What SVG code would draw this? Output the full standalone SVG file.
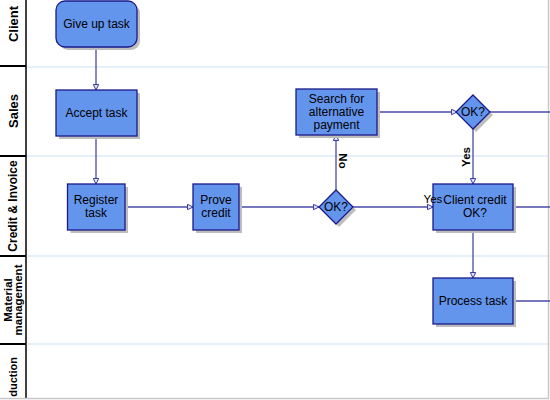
<svg xmlns="http://www.w3.org/2000/svg" width="550" height="400" viewBox="0 0 550 400">
<style>
.node{fill:#6495ED;stroke:#1a1a8a;stroke-width:1.3}
.shadow{fill:#bdbdbd}
.lbl{font-family:"Liberation Sans",Arial,sans-serif;font-size:12px;fill:#000;text-anchor:middle}
.lane{font-family:"Liberation Sans",Arial,sans-serif;font-size:13px;font-weight:bold;fill:#000;text-anchor:middle}
.edge{stroke:#4a4aa8;stroke-width:1.3;fill:none}
.elbl{font-family:"Liberation Sans",Arial,sans-serif;font-size:11.5px;fill:#000;text-anchor:middle}
</style>
<defs>
<marker id="arr" markerWidth="8" markerHeight="8" refX="6" refY="3.5" orient="auto" markerUnits="userSpaceOnUse">
<path d="M0.5,0.8 L6,3.5 L0.5,6.2 z" fill="#dde6fb" stroke="#3a3aa0" stroke-width="1"/>
</marker>
</defs>
<rect x="0" y="0" width="550" height="400" fill="#fff"/>
<g id="lanes">
<g stroke="#e6f0fb" stroke-width="2">
<line x1="27" y1="67" x2="548" y2="67"/>
<line x1="27" y1="156" x2="548" y2="156"/>
<line x1="27" y1="256" x2="548" y2="256"/>
<line x1="27" y1="344" x2="548" y2="344"/>
</g>
<g stroke="#000" stroke-width="2">
<line x1="0" y1="66" x2="26" y2="66"/>
<line x1="0" y1="156" x2="26" y2="156"/>
<line x1="0" y1="256" x2="26" y2="256"/>
<line x1="0" y1="344" x2="26" y2="344"/>
</g>
<line x1="26" y1="0" x2="26" y2="399" stroke="#000" stroke-width="1.5"/>
<polyline points="0,398.5 548.5,398.5 548.5,0" fill="none" stroke="#c8c8c8" stroke-width="1.5"/>
<text class="lane" transform="translate(17.5,24) rotate(-90)">Client</text>
<text class="lane" transform="translate(17.5,111) rotate(-90)">Sales</text>
<text class="lane" style="font-size:12px" transform="translate(17,206) rotate(-90)">Credit &amp; Invoice</text>
<text class="lane" style="font-size:11.5px" transform="translate(12,300) rotate(-90)">Material</text>
<text class="lane" style="font-size:11.5px" transform="translate(22,300) rotate(-90)">management</text>
<text class="lane" style="font-size:11px;text-anchor:end" transform="translate(17,357) rotate(-90)">duction</text>
</g>
<g id="connectors">
<line class="edge" x1="96" y1="47" x2="96" y2="90" marker-end="url(#arr)"/>
<line class="edge" x1="96" y1="136" x2="96" y2="184" marker-end="url(#arr)"/>
<line class="edge" x1="125" y1="207" x2="193" y2="207" marker-end="url(#arr)"/>
<line class="edge" x1="239" y1="207" x2="319" y2="207" marker-end="url(#arr)"/>
<line class="edge" x1="336" y1="190" x2="336" y2="135" marker-end="url(#arr)"/>
<line class="edge" x1="353" y1="207" x2="433" y2="207" marker-end="url(#arr)"/>
<line class="edge" x1="377" y1="112" x2="457" y2="112" marker-end="url(#arr)"/>
<line class="edge" x1="490" y1="112" x2="550" y2="112"/>
<line class="edge" x1="473" y1="129" x2="473" y2="184" marker-end="url(#arr)"/>
<line class="edge" x1="513" y1="207" x2="550" y2="207"/>
<line class="edge" x1="473" y1="230" x2="473" y2="278" marker-end="url(#arr)"/>
<line class="edge" x1="513" y1="301" x2="550" y2="301"/>
</g>
<g id="n_giveup">
<rect class="shadow" x="59" y="4" width="81" height="46" rx="9"/>
<rect class="node" x="56" y="1" width="81" height="46" rx="9"/>
<text class="lbl" x="96.5" y="28">Give up task</text>
</g>
<g id="n_accept">
<rect class="shadow" x="59" y="93" width="81" height="46"/>
<rect class="node" x="56" y="90" width="81" height="46"/>
<text class="lbl" x="96.5" y="117">Accept task</text>
</g>
<g id="n_register">
<rect class="shadow" x="70.5" y="187" width="57.5" height="46"/>
<rect class="node" x="67.5" y="184" width="57.5" height="46"/>
<text class="lbl" x="96" y="204">Register</text>
<text class="lbl" x="96" y="217">task</text>
</g>
<g id="n_prove">
<rect class="shadow" x="196" y="187" width="46" height="46"/>
<rect class="node" x="193" y="184" width="46" height="46"/>
<text class="lbl" x="216" y="204">Prove</text>
<text class="lbl" x="216" y="217">credit</text>
</g>
<g id="n_ok1">
<polygon class="shadow" points="339,193 356,210 339,227 322,210"/>
<polygon class="node" points="336,190 353,207 336,224 319,207"/>
<text class="lbl" x="336" y="211">OK?</text>
</g>
<g id="n_search">
<rect class="shadow" x="299" y="92" width="81" height="46"/>
<rect class="node" x="296" y="89" width="81" height="46"/>
<text class="lbl" x="336.5" y="103">Search for</text>
<text class="lbl" x="336.5" y="116">alternative</text>
<text class="lbl" x="336.5" y="129">payment</text>
</g>
<g id="n_ok2">
<polygon class="shadow" points="476,98 493,115 476,132 459,115"/>
<polygon class="node" points="473,95 490,112 473,129 456,112"/>
<text class="lbl" x="473" y="116">OK?</text>
</g>
<g id="n_client">
<rect class="shadow" x="436" y="187" width="80" height="46"/>
<rect class="node" x="433" y="184" width="80" height="46"/>
<text class="lbl" x="475" y="204">Client credit</text>
<text class="lbl" x="475" y="217">OK?</text>
</g>
<g id="n_process">
<rect class="shadow" x="436" y="281" width="80" height="46"/>
<rect class="node" x="433" y="278" width="80" height="46"/>
<text class="lbl" x="473" y="305">Process task</text>
</g>
<g id="edge_labels">
<text class="elbl" style="font-weight:bold" transform="translate(339,161) rotate(90)">No</text>
<text class="elbl" style="font-weight:bold" transform="translate(470,157) rotate(-90)">Yes</text>
<text class="elbl" x="433" y="203">Yes</text>
</g>
</svg>
